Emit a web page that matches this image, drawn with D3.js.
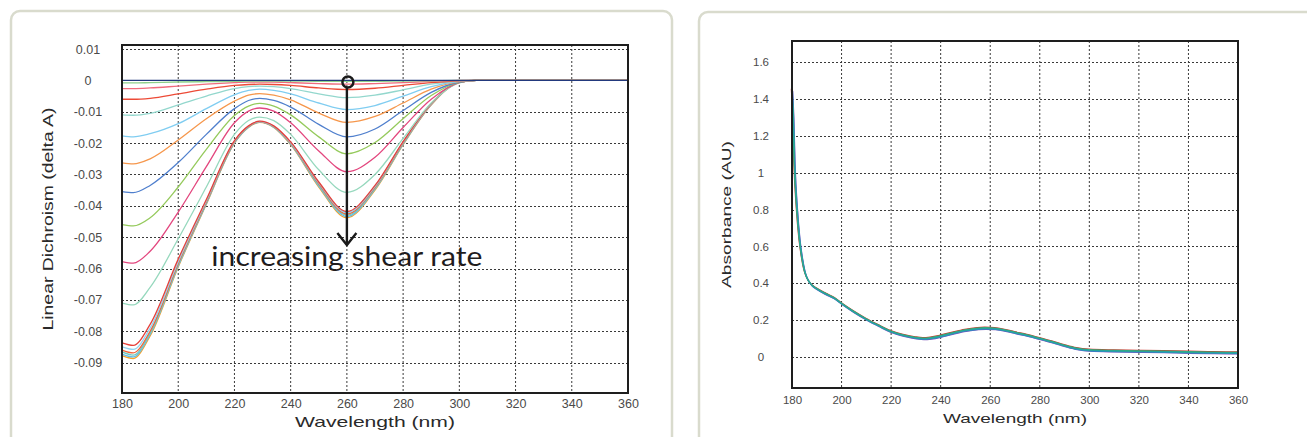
<!DOCTYPE html>
<html>
<head>
<meta charset="utf-8">
<script src="https://cdn.jsdelivr.net/npm/d3@7"></script>
<style>
  body { margin: 0; background: #fff; }
  svg { display: block; }
</style>
</head>
<body>
<svg id="chart" width="1307" height="437"></svg>
<script>
// linear dichroism panel: wavelengths shared by every curve
const ldWavelengths = [180, 184, 190, 200, 210, 220, 225, 229, 234, 240, 250, 260, 270, 280, 290, 300, 306, 360];

const ldNavy = [0, 0, 0, 0, 0, 0, 0, 0, 0, 0, 0, 0, 0, 0, 0, 0, 0, 0];
const ldPaleGreen = [-0.0008, -0.0008, -0.0007, -0.0005, -0.0004, -0.0003, -0.0002, -0.0002, -0.0002, -0.0002, -0.0003, -0.0003, -0.0003, -0.0002, -0.0001, 0, 0, 0];
const ldPink = [-0.0026, -0.0026, -0.0024, -0.0018, -0.0012, -0.0007, -0.0005, -0.0005, -0.0005, -0.0007, -0.0010, -0.0012, -0.0010, -0.0007, -0.0003, 0, 0, 0];
const ldRed = [-0.0060, -0.0060, -0.0057, -0.0043, -0.0028, -0.0016, -0.0013, -0.0012, -0.0013, -0.0016, -0.0024, -0.0029, -0.0025, -0.0016, -0.0007, -0.0001, 0, 0];
const ldTeal = [-0.0110, -0.0111, -0.0105, -0.0078, -0.0050, -0.0026, -0.0020, -0.0018, -0.0020, -0.0026, -0.0043, -0.0055, -0.0047, -0.0030, -0.0012, -0.0002, 0, 0];
const ldSky = [-0.0177, -0.0180, -0.0170, -0.0138, -0.0090, -0.0046, -0.0032, -0.0028, -0.0032, -0.0043, -0.0072, -0.0093, -0.0080, -0.0050, -0.0020, -0.0003, 0, 0];
const ldOrange = [-0.0263, -0.0266, -0.0250, -0.0190, -0.0122, -0.0066, -0.0047, -0.0042, -0.0047, -0.0062, -0.0104, -0.0134, -0.0115, -0.0072, -0.0028, -0.0004, 0, 0];
const ldBlue = [-0.0355, -0.0358, -0.0335, -0.0262, -0.0172, -0.0090, -0.0064, -0.0057, -0.0064, -0.0085, -0.0140, -0.0180, -0.0155, -0.0096, -0.0038, -0.0005, 0, 0];
const ldGreen = [-0.0460, -0.0464, -0.0438, -0.0340, -0.0220, -0.0112, -0.0082, -0.0073, -0.0082, -0.0110, -0.0180, -0.0234, -0.0198, -0.0122, -0.0048, -0.0006, 0, 0];
const ldMagenta = [-0.0578, -0.0583, -0.0545, -0.0420, -0.0275, -0.0135, -0.0098, -0.0088, -0.0098, -0.0135, -0.0225, -0.0291, -0.0245, -0.0150, -0.0060, -0.0007, 0, 0];
const ldMint = [-0.0710, -0.0716, -0.0660, -0.0505, -0.0340, -0.0172, -0.0128, -0.0117, -0.0128, -0.0172, -0.0285, -0.0357, -0.0300, -0.0185, -0.0072, -0.0008, 0, 0];
const ldRed2 = [-0.0837, -0.0845, -0.0778, -0.0570, -0.0380, -0.0192, -0.0145, -0.0130, -0.0145, -0.0196, -0.0324, -0.0418, -0.0335, -0.0195, -0.0074, -0.0006, 0, 0];
const ldLightBlue = [-0.0850, -0.0858, -0.0790, -0.0578, -0.0384, -0.0194, -0.0146, -0.0131, -0.0146, -0.0198, -0.0327, -0.0422, -0.0338, -0.0197, -0.0075, -0.0006, 0, 0];
const ldVermilion = [-0.0860, -0.0869, -0.0800, -0.0584, -0.0388, -0.0196, -0.0147, -0.0132, -0.0147, -0.0200, -0.0330, -0.0426, -0.0341, -0.0199, -0.0076, -0.0006, 0, 0];
const ldTeal2 = [-0.0866, -0.0876, -0.0805, -0.0588, -0.0390, -0.0197, -0.0148, -0.0132, -0.0148, -0.0201, -0.0333, -0.0430, -0.0344, -0.0201, -0.0076, -0.0006, 0, 0];
const ldSky2 = [-0.0873, -0.0882, -0.0810, -0.0592, -0.0393, -0.0199, -0.0149, -0.0133, -0.0149, -0.0203, -0.0337, -0.0434, -0.0347, -0.0203, -0.0077, -0.0006, 0, 0];
const ldAmber = [-0.0878, -0.0887, -0.0815, -0.0595, -0.0395, -0.0200, -0.0150, -0.0134, -0.0150, -0.0205, -0.0340, -0.0438, -0.0350, -0.0205, -0.0078, -0.0006, 0, 0];

const ldTicks = [0.01, 0, -0.01, -0.02, -0.03, -0.04, -0.05, -0.06, -0.07, -0.08, -0.09];
const wlTicks = [180, 200, 220, 240, 260, 280, 300, 320, 340, 360];

// absorbance panel
const absWavelengths = [180, 180.5, 181, 182, 183, 184, 185, 186, 188, 190, 194, 197, 200, 205, 210, 215, 220, 225, 230, 233, 236, 240, 245, 250, 255, 258, 262, 266, 270, 275, 280, 285, 290, 295, 300, 310, 320, 330, 340, 350, 360];
const absorbance = [1.45, 1.30, 1.05, 0.80, 0.64, 0.54, 0.47, 0.43, 0.39, 0.37, 0.34, 0.32, 0.29, 0.245, 0.205, 0.17, 0.138, 0.118, 0.104, 0.100, 0.103, 0.113, 0.13, 0.145, 0.154, 0.156, 0.154, 0.145, 0.132, 0.117, 0.100, 0.082, 0.062, 0.045, 0.037, 0.033, 0.031, 0.029, 0.026, 0.024, 0.022];
const absTicks = [0, 0.2, 0.4, 0.6, 0.8, 1, 1.2, 1.4, 1.6];

// drawing order: deepest first, baseline last
const ldCurves = [ldAmber, ldSky2, ldTeal2, ldVermilion, ldLightBlue, ldRed2, ldMint, ldMagenta, ldGreen, ldBlue, ldOrange, ldSky, ldTeal, ldRed, ldPink, ldPaleGreen, ldNavy];
const ldColors = ['#f7a128', '#62bde9', '#72c9bd', '#f1643a', '#93d4f0', '#e6403a', '#96d8bd', '#e3467e', '#95ca5c', '#4f7fcd', '#f6974c', '#80cdf1', '#93d7cd', '#ed4a36', '#f06c7c', '#8fd08a', '#22397d'];
const absColors = ['#c8372d', '#7b4fb6', '#2e8bc9', '#3dae6e', '#27a59a'];
const absOffsets = [-1, 1, 0.6, -0.5, 0];

const tickFont = "'Liberation Sans Narrow', 'Arial Narrow', 'Liberation Sans', sans-serif";
const titleFont = "'Liberation Sans', Arial, sans-serif";

const svg = d3.select('#chart');

// cards
svg.append('rect')
  .attr('x', 11).attr('y', 11).attr('width', 661).attr('height', 460)
  .attr('rx', 9).attr('fill', '#fff')
  .attr('stroke', '#d9dbcd').attr('stroke-width', 2.5);
svg.append('rect')
  .attr('x', 699).attr('y', 12).attr('width', 660).attr('height', 460)
  .attr('rx', 9).attr('fill', '#fff')
  .attr('stroke', '#d9dbcd').attr('stroke-width', 2.5);

function drawPanel(p) {
  const x = d3.scaleLinear().domain([180, 360]).range([p.left, p.right]);
  const y = d3.scaleLinear().domain(p.yDomain).range([p.bottom, p.top]);
  const g = svg.append('g');

  // dotted grid
  g.append('g')
    .selectAll('line')
    .data(wlTicks.slice(1, -1))
    .join('line')
    .attr('x1', (d) => x(d)).attr('x2', (d) => x(d))
    .attr('y1', p.top).attr('y2', p.bottom)
    .attr('stroke', '#3a3a3a').attr('stroke-width', 1)
    .attr('stroke-dasharray', '2,2');
  g.append('g')
    .selectAll('line')
    .data(p.yTicks)
    .join('line')
    .attr('x1', p.left).attr('x2', p.right)
    .attr('y1', (d) => Math.round(y(d)) + 0.5).attr('y2', (d) => Math.round(y(d)) + 0.5)
    .attr('stroke', '#3a3a3a').attr('stroke-width', 1)
    .attr('stroke-dasharray', '2,2');

  // axes (labels only, frame drawn separately)
  g.append('g')
    .attr('transform', `translate(${p.left},0)`)
    .call(d3.axisLeft(y).tickValues(p.yTicks).tickSize(0).tickFormat((d) => String(d)))
    .call((a) => a.select('.domain').remove())
    .call((a) => a.selectAll('text')
      .attr('text-anchor', 'middle')
      .attr('x', -p.yLabelGap)
      .attr('fill', '#4a4a4a')
      .style('font-family', tickFont)
      .style('font-size', p.tickSize + 'px'));

  g.append('g')
    .attr('transform', `translate(0,${p.bottom})`)
    .call(d3.axisBottom(x).tickValues(wlTicks).tickSize(0).tickPadding(p.xPad).tickFormat((d) => String(d)))
    .call((a) => a.select('.domain').remove())
    .call((a) => a.selectAll('text')
      .attr('fill', '#4a4a4a')
      .style('font-family', tickFont)
      .style('font-size', p.tickSize + 'px'));

  // titles
  g.append('text')
    .attr('x', (p.left + p.right) / 2)
    .attr('y', p.xTitleY)
    .attr('text-anchor', 'middle')
    .attr('textLength', p.xTitleLen)
    .attr('lengthAdjust', 'spacingAndGlyphs')
    .attr('fill', '#2a2a2a')
    .style('font-family', titleFont)
    .style('font-size', p.titleSize + 'px')
    .text('Wavelength (nm)');

  g.append('text')
    .attr('transform', `translate(${p.yTitleX},${(p.top + p.bottom) / 2}) rotate(-90)`)
    .attr('text-anchor', 'middle')
    .attr('dominant-baseline', 'central')
    .attr('textLength', p.yTitleLen)
    .attr('lengthAdjust', 'spacingAndGlyphs')
    .attr('fill', '#2a2a2a')
    .style('font-family', titleFont)
    .style('font-size', p.titleSize + 'px')
    .text(p.yTitle);

  return { x, y, g };
}

// left panel
const left = drawPanel({
  left: 122, right: 628, top: 45, bottom: 393,
  yDomain: [-0.0997, 0.0113], yTicks: ldTicks,
  yLabelGap: 34, xPad: 6, tickSize: 12.5,
  xTitleY: 427, xTitleLen: 160, yTitleX: 48, yTitleLen: 223,
  titleSize: 14.5, yTitle: 'Linear Dichroism (delta A)',
});

const ldLine = d3.line()
  .x((d, i) => left.x(ldWavelengths[i]))
  .y((d) => left.y(d))
  .curve(d3.curveMonotoneX);

left.g.append('g')
  .attr('fill', 'none')
  .selectAll('path')
  .data(ldCurves)
  .join('path')
  .attr('d', ldLine)
  .attr('stroke', (d, i) => ldColors[i])
  .attr('stroke-width', 1.3);

left.g.append('rect')
  .attr('x', 122).attr('y', 45).attr('width', 506).attr('height', 348)
  .attr('fill', 'none').attr('stroke', '#1e1e1e').attr('stroke-width', 2);

// annotation
const ax = left.x(260);
const tipY = left.y(-0.0525);
left.g.append('circle')
  .attr('cx', ax + 1).attr('cy', left.y(0) + 1.5).attr('r', 5.5)
  .attr('fill', 'none').attr('stroke', '#1a1a1a').attr('stroke-width', 2.5);
left.g.append('line')
  .attr('x1', ax).attr('x2', ax)
  .attr('y1', left.y(0) + 7).attr('y2', tipY)
  .attr('stroke', '#1a1a1a').attr('stroke-width', 2.4);
left.g.append('path')
  .attr('d', `M${ax - 9.5},${tipY - 12}L${ax},${tipY}L${ax + 9.5},${tipY - 12}`)
  .attr('fill', 'none').attr('stroke', '#1a1a1a').attr('stroke-width', 2.4);
left.g.append('text')
  .attr('x', ax)
  .attr('y', left.y(-0.0591))
  .attr('text-anchor', 'middle')
  .attr('textLength', 271)
  .attr('lengthAdjust', 'spacingAndGlyphs')
  .attr('fill', '#1f1c1d')
  .style('font-family', "Lato, 'Open Sans', sans-serif")
  .style('font-weight', 400)
  .style('font-size', '26px')
  .text('increasing shear rate');

// right panel
const right = drawPanel({
  left: 792, right: 1238, top: 41, bottom: 388,
  yDomain: [-0.168, 1.714], yTicks: absTicks,
  yLabelGap: 31, xPad: 8, tickSize: 11.5,
  xTitleY: 423, xTitleLen: 144, yTitleX: 726, yTitleLen: 147,
  titleSize: 13.5, yTitle: 'Absorbance (AU)',
});

const absLine = d3.line()
  .x((d, i) => right.x(absWavelengths[i]))
  .y((d) => right.y(d))
  .curve(d3.curveMonotoneX);

right.g.append('g')
  .attr('fill', 'none')
  .selectAll('path')
  .data(absColors)
  .join('path')
  .attr('d', absLine(absorbance))
  .attr('transform', (d, i) => `translate(${absOffsets[i] * 0.6},${absOffsets[i]})`)
  .attr('stroke', (d) => d)
  .attr('stroke-width', 1.3);

right.g.append('rect')
  .attr('x', 792).attr('y', 41).attr('width', 446).attr('height', 347)
  .attr('fill', 'none').attr('stroke', '#1e1e1e').attr('stroke-width', 2);
</script>
</body>
</html>
